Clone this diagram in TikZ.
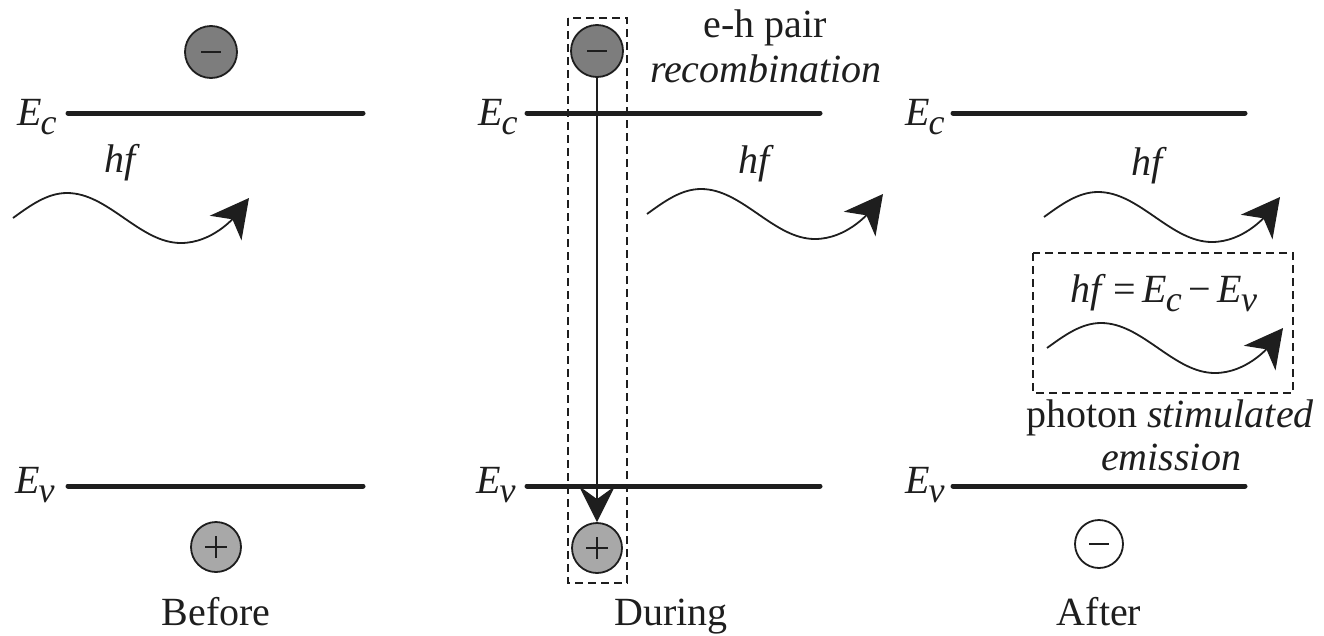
\documentclass[tikz,border=0pt]{standalone}
\usepackage{fontspec}
\setmainfont{Liberation Serif}
\usetikzlibrary{arrows.meta}
\newcommand\lsub[1]{\kern-1pt\raisebox{-9pt}{\fontsize{36}{38}\selectfont\itshape #1}}
\newcommand\Ec{\textit{E}\lsub{c}}
\newcommand\Ev{\textit{E}\lsub{v}}
\definecolor{pdark}{RGB}{125,125,125}
\definecolor{plight}{RGB}{168,168,168}
\definecolor{ink}{RGB}{30,30,30}
\begin{document}
\begin{tikzpicture}[x=1pt,y=-1pt,
  txt/.style={font=\fontsize{40}{46}\selectfont, inner sep=0pt, anchor=base, text=ink},
  level/.style={line width=5pt, line cap=round, draw=ink},
  wave/.style={line width=1.8pt, draw=ink, -{Stealth[length=38pt,width=40pt,inset=11pt]}},
  particle/.style={circle, draw=ink, line width=1.8pt, minimum size=52pt, inner sep=0pt},
  minus/.style={path picture={\draw[line width=1.4pt, ink]
      ([xshift=-10pt]path picture bounding box.center) -- ([xshift=10pt]path picture bounding box.center);}},
  plus/.style={path picture={\draw[line width=1.4pt, ink]
      ([xshift=-11pt]path picture bounding box.center) -- ([xshift=11pt]path picture bounding box.center)
      ([yshift=-11pt]path picture bounding box.center) -- ([yshift=11pt]path picture bounding box.center);}},
  dbox/.style={draw=ink, line width=1.5pt, dash pattern=on 8pt off 5pt},
  vline/.style={line width=1.5pt, draw=ink, -{Stealth[length=36pt,width=36pt,inset=13pt]}}
]
\useasboundingbox (0,0) rectangle (1324,635);

% energy levels
\foreach \n/\a/\b in {1/68/363, 2/527/820, 3/953/1245}{
  \coordinate (c\n a) at (\a,113); \coordinate (c\n b) at (\b,113);
  \coordinate (v\n a) at (\a,486); \coordinate (v\n b) at (\b,486);
  \draw[level] (c\n a) -- (c\n b);
  \draw[level] (v\n a) -- (v\n b);
}

% level labels
\node[txt, anchor=base west] (ec1) at (17,125) {\Ec};
\node[txt, anchor=base west] (ev1) at (15,493) {\Ev};
\node[txt, anchor=base west] (ec2) at (478,125) {\Ec};
\node[txt, anchor=base west] (ev2) at (476,493) {\Ev};
\node[txt, anchor=base west] (ec3) at (905,125) {\Ec};
\node[txt, anchor=base west] (ev3) at (905,493) {\Ev};

% particles
\node[particle, minus, fill=pdark] (m1) at (211,52) {};
\node[particle, plus, fill=plight, minimum size=50pt] (p1) at (216,547) {};
\node[particle, minus, fill=pdark] (m2) at (597,51) {};
\node[particle, plus, fill=plight, minimum size=50pt] (p2) at (597,548) {};
\node[particle, minus, fill=white, minimum size=48pt] (m3) at (1099,544) {};

% recombination
\draw[vline] (m2.south) -- (p2.north);
\coordinate (b1a) at (568,18); \coordinate (b1b) at (627,583);
\draw[dbox] (b1a) rectangle (b1b);
\node[txt] (eh) at (765,37) {e-h pair};
\node[txt] (rec) at (766,82) {\textit{recombination}};

% photons
\foreach \sx/\sy in {13/218, 647/214, 1044/217, 1047/348}{
  \begin{scope}[shift={(\sx,\sy)}]
    \draw[wave] (0,0) sin (54,-25) cos (111,0) sin (168,25)
      .. controls (200,25) and (222,-2) .. (236,-20);
  \end{scope}
}
\node[txt] (hf1) at (122,172) {\textit{hf}};
\node[txt] (hf2) at (756,173) {\textit{hf}};
\node[txt] (hf3) at (1149,175) {\textit{hf}};

% stimulated emission box
\coordinate (b2a) at (1033,253); \coordinate (b2b) at (1293,393);
\draw[dbox] (b2a) rectangle (b2b);
\node[txt] (eq) at (1164,302) {\textit{hf}\,=\,\Ec\,−\,\Ev};
\node[txt] (ph) at (1170,427) {photon \textit{stimulated}};
\node[txt] (em) at (1171,470) {\textit{emission}};

% captions
\node[txt] (before) at (216,625) {Before};
\node[txt] (during) at (671,625) {During};
\node[txt] (after) at (1099,625) {After};
\end{tikzpicture}
\end{document}
